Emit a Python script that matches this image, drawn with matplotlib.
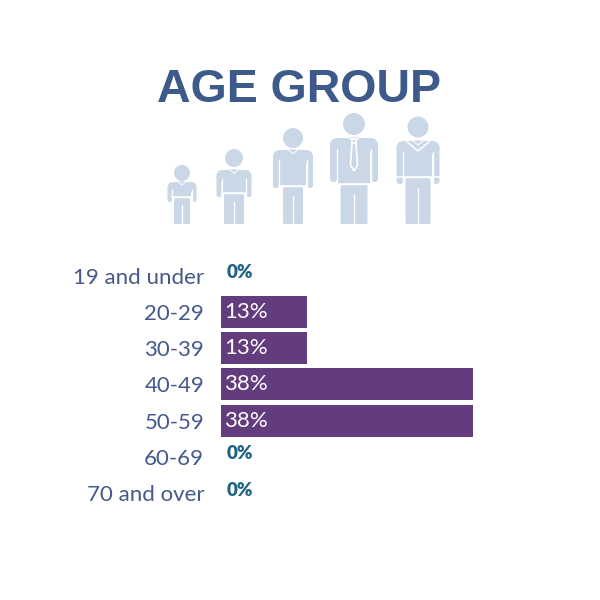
import numpy as np
import matplotlib.pyplot as plt
from matplotlib.patches import Circle, FancyBboxPatch, Rectangle, Polygon

# data
groups = ['19 and under', '20-29', '30-39', '40-49', '50-59', '60-69', '70 and over']
shares = [0, 13, 13, 38, 38, 0, 0]

bar_col = '#633c7e'
lab_col = '#44598a'
title_col = '#3e5a8b'
zero_col = '#1d6385'
icon_col = '#c9d7e6'

fig = plt.figure(figsize=(6, 6), dpi=100)

# bar chart
ax = fig.add_axes([0.368, 0.148, 0.552, 0.423])
y = np.arange(len(groups))
bars = ax.barh(y, shares, height=0.88, color=bar_col)
ax.set_xlim(0, 50)
ax.set_ylim(len(groups) - 0.5, -0.5)
ax.set_yticks(y)
ax.set_yticklabels(groups, fontsize=16, color=lab_col, family='Lato')
ax.tick_params(axis='y', length=0, pad=12)
ax.set_xticks([])
for s in ax.spines.values():
    s.set_visible(False)

for yi, v in zip(y, shares):
    if v == 0:
        ax.text(0.9, yi - 0.08, '0%', ha='left', va='center', fontsize=13.5,
                fontweight='heavy', color=zero_col, family='Lato')
    else:
        ax.text(0.45, yi, f'{v}%', ha='left', va='center', fontsize=16,
                color='white', family='Lato')

# overlay in pixel coords for title and icons
ov = fig.add_axes([0, 0, 1, 1])
ov.set_xlim(0, 600)
ov.set_ylim(600, 0)
ov.axis('off')
ov.text(299, 89.5, 'AGE GROUP', ha='center', va='center', fontsize=33.5,
        fontweight='bold', color=title_col, family='Liberation Sans')


def rbox(x, y0, w, h, rad, **kw):
    ov.add_patch(FancyBboxPatch((x, y0), w, h,
                                boxstyle='round,pad=0,rounding_size=%f' % rad,
                                facecolor=icon_col, lw=0, **kw))


def person(cx, hy, r, sh, outer, aw, arm_bot, hip, leg_half, foot=224,
           tie=False, vneck=False):
    ov.add_patch(Circle((cx, hy), r, color=icon_col, lw=0))
    # shoulders
    rbox(cx - outer, sh, 2 * outer, r * 1.3, r * 0.7)
    # arms
    for side in (-1, 1):
        x0 = cx - outer if side < 0 else cx + outer - aw
        rbox(x0, sh + r * 0.5, aw, arm_bot - sh - r * 0.5, aw * 0.45)
    # torso
    tw = outer - aw - 0.6
    ov.add_patch(Rectangle((cx - tw, sh + 2), 2 * tw, hip - sh - 2,
                           facecolor=icon_col, lw=0))
    # armpit separations
    for side in (-1, 1):
        xs = cx + side * (tw + 0.3)
        ov.plot([xs, xs], [sh + r * 1.0, arm_bot + 1], color='white', lw=0.9)
    # legs
    rbox(cx - leg_half, hip + 1.2, 2 * leg_half, foot - hip - 1.2, 1.5)
    ov.plot([cx, cx], [hip + r * 1.0, foot + 1], color='white', lw=1.0)
    # belt
    ov.plot([cx - tw - 0.3, cx + tw + 0.3], [hip + 0.4, hip + 0.4], color='white', lw=1.1)
    # neckline
    ov.add_patch(Polygon([[cx - r * 0.6, sh - 0.5], [cx, sh + r * 0.45],
                          [cx + r * 0.6, sh - 0.5]], closed=True, color='white', lw=0))
    ov.add_patch(Polygon([[cx - r * 0.45, sh - 0.5], [cx, sh + r * 0.3],
                          [cx + r * 0.45, sh - 0.5]], closed=True, color=icon_col, lw=0))
    if tie:
        ov.add_patch(Polygon([[cx - 2, sh + 5], [cx + 2, sh + 5], [cx + 3.5, sh + 27],
                              [cx, sh + 33], [cx - 3.5, sh + 27]],
                             closed=True, facecolor=icon_col, edgecolor='white', lw=1.2))
        ov.add_patch(Polygon([[cx - 2.5, sh + 1], [cx + 2.5, sh + 1], [cx + 1.5, sh + 5],
                              [cx - 1.5, sh + 5]], closed=True, facecolor=icon_col,
                             edgecolor='white', lw=1.2))
    if vneck:
        ov.plot([cx - tw * 0.75, cx, cx + tw * 0.75], [sh + 1, sh + 10, sh + 1],
                color='white', lw=1.1)
        # cuffs
        for side in (-1, 1):
            x0 = cx - outer if side < 0 else cx + outer - aw
            ov.plot([x0, x0 + aw], [hip - 0.5, hip - 0.5], color='white', lw=1.1)


person(182, 173, 8, 182, 14.5, 4.5, 202, 197, 8)
person(234, 158, 9, 170, 17.5, 5, 197, 193, 10)
person(293, 138, 10, 150, 20, 6, 188, 186, 10)
person(354, 124, 11, 138, 24, 7, 182, 184, 13.5, tie=True)
person(418, 127, 10.5, 141, 21.5, 6.5, 184, 177, 12.5, vneck=True)

fig.savefig('out.png', dpi=100, facecolor='white')
